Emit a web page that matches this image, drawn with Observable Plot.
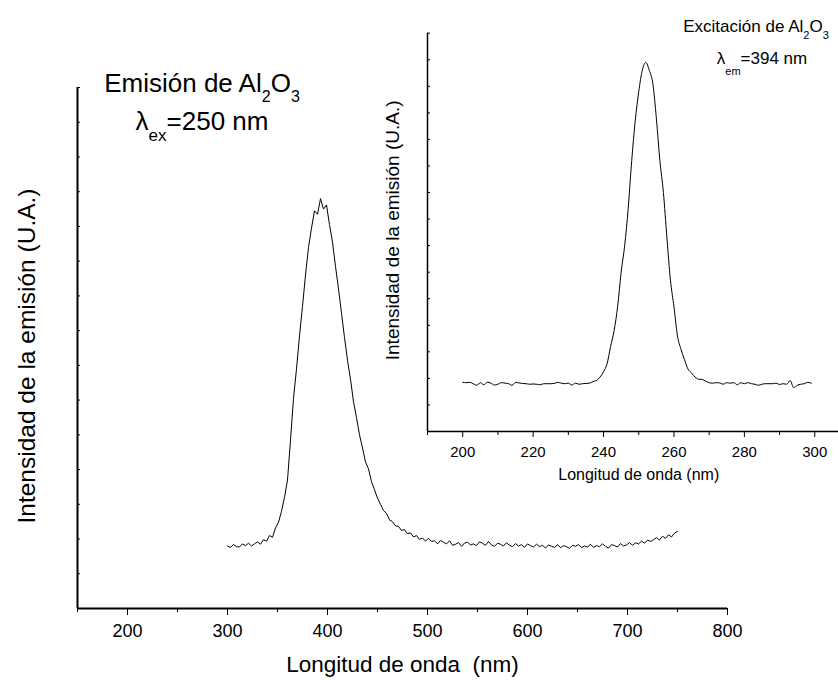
<!DOCTYPE html>
<html><head><meta charset="utf-8">
<script src="https://cdn.jsdelivr.net/npm/d3@7"></script>
<script src="https://cdn.jsdelivr.net/npm/@observablehq/plot@0.6"></script>
<style>
body{margin:0;background:#fff}
#c{position:relative;width:838px;height:686px;overflow:hidden;font-family:"Liberation Sans",Arial,sans-serif}
#c svg{position:absolute;left:0;top:0;max-width:none}
</style>
</head><body><div id="c"></div>
<script>
// ---------- Main chart: emission spectrum (λex = 250 nm) ----------
const emWavelength = [
300,303,306,309,312,315,318,321,324,327,330,333,336,339,342,345,348,351,354,357,
360,363,366,369,372,375,378,381,384,387,390,393,396,399,402,405,408,411,414,417,
420,423,426,429,432,435,438,441,444,447,450,453,456,459,462,465,468,471,474,477,
480,483,486,489,492,495,498,501,504,507,510,513,516,519,522,525,528,531,534,537,
540,543,546,549,552,555,558,561,564,567,570,573,576,579,582,585,588,591,594,597,
600,603,606,609,612,615,618,621,624,627,630,633,636,639,642,645,648,651,654,657,
660,663,666,669,672,675,678,681,684,687,690,693,696,699,702,705,708,711,714,717,
720,723,726,729,732,735,738,741,744,747,750];
const emIntensity = [
1.80,1.76,1.84,1.78,1.77,1.86,1.81,1.88,1.80,1.86,1.92,1.85,1.98,1.94,2.10,2.05,2.32,2.48,2.80,3.20,
3.70,4.85,6.05,6.90,7.85,8.70,9.60,10.40,10.95,11.45,11.35,11.80,11.50,11.62,11.05,10.55,9.85,9.20,8.50,7.80,
7.15,6.60,5.95,5.50,5.00,4.62,4.22,4.02,3.65,3.42,3.18,3.00,2.82,2.74,2.55,2.50,2.38,2.36,2.25,2.27,
2.15,2.18,2.06,2.10,1.99,2.03,1.94,2.02,1.93,1.95,1.86,1.96,1.91,1.86,1.95,1.82,1.85,1.90,1.79,1.88,
1.91,1.83,1.86,1.81,1.92,1.88,1.82,1.93,1.83,1.79,1.88,1.85,1.80,1.89,1.82,1.78,1.87,1.80,1.84,1.76,
1.86,1.81,1.77,1.85,1.78,1.82,1.74,1.83,1.79,1.76,1.84,1.75,1.81,1.78,1.73,1.82,1.79,1.84,1.75,1.80,
1.77,1.85,1.76,1.81,1.78,1.86,1.79,1.74,1.84,1.81,1.77,1.87,1.80,1.83,1.90,1.82,1.89,1.86,1.94,1.88,
1.97,1.93,1.98,2.04,1.97,2.08,2.02,2.12,2.06,2.17,2.22];
const mainXMajor = [200, 300, 400, 500, 600, 700, 800];
const mainXMinor = [150, 250, 350, 450, 550, 650, 750];
const yTicks = [0,1,2,3,4,5,6,7,8,9,10,11,12,13,14,15];
const mainXLabel = "Longitud de onda\u00a0 (nm)";
const mainYLabel = "Intensidad de la emisión (U.A.)";

// ---------- Inset chart: excitation spectrum (λem = 394 nm) ----------
const exWavelength = [
200,201,202,203,204,205,206,207,208,209,210,211,212,213,214,215,216,217,218,219,
220,221,222,223,224,225,226,227,228,229,230,231,232,233,234,235,236,237,238,239,
240,241,242,243,244,245,246,247,248,249,250,251,252,253,254,255,256,257,258,259,
260,261,262,263,264,265,266,267,268,269,270,271,272,273,274,275,276,277,278,279,
280,281,282,283,284,285,286,287,288,289,290,291,292,293,294,295,296,297,298,299];
const exIntensity = [
1.85,1.84,1.85,1.80,1.74,1.84,1.76,1.86,1.82,1.75,1.78,1.84,1.82,1.80,1.74,1.85,1.83,1.81,1.80,1.78,
1.79,1.78,1.76,1.80,1.80,1.80,1.81,1.85,1.82,1.80,1.82,1.75,1.82,1.78,1.80,1.81,1.82,1.88,1.92,2.05,
2.25,2.55,3.20,3.80,4.70,6.00,7.00,8.40,10.20,11.70,12.80,13.60,13.90,13.60,13.10,11.80,10.20,9.00,7.30,5.70,
4.70,3.60,3.10,2.70,2.35,2.20,2.05,1.97,1.96,1.90,1.84,1.82,1.84,1.83,1.78,1.84,1.82,1.84,1.76,1.84,
1.80,1.84,1.80,1.78,1.74,1.78,1.80,1.80,1.80,1.82,1.77,1.80,1.78,1.92,1.65,1.74,1.78,1.80,1.85,1.82];
const insetXMajor = [200, 220, 240, 260, 280, 300];
const insetXMinor = [190, 210, 230, 250, 270, 290, 310];
const insetXLabel = "Longitud de onda (nm)";
const insetYLabel = "Intensidad de la emisión (U.A.)";

const emission = emWavelength.map((wl, i) => ({wl, v: emIntensity[i]}));
const excitation = exWavelength.map((wl, i) => ({wl, v: exIntensity[i]}));

const font = '"Liberation Sans", Arial, sans-serif';

const main = Plot.plot({
  width: 838, height: 686,
  marginLeft: 77, marginRight: 111, marginTop: 87, marginBottom: 78,
  style: {fontFamily: font, background: "transparent", color: "black", overflow: "visible"},
  x: {domain: [150, 800]},
  y: {domain: [0, 15]},
  marks: [
    Plot.axisY({ticks: yTicks, tickSize: 3, dx: 3, fill: "none", label: null}),
    Plot.axisX({ticks: mainXMinor, tickSize: 4, fill: "none", label: null}),
    Plot.axisX({ticks: mainXMajor, tickSize: 7, tickPadding: 9, fontSize: 18, label: null}),
    Plot.ruleX([150], {strokeWidth: 2}),
    Plot.ruleY([0], {strokeWidth: 2}),
    Plot.line(emission, {x: "wl", y: "v", stroke: "black", strokeWidth: 1}),
    Plot.text([mainXLabel], {text: d => d, frameAnchor: "bottom", textAnchor: "middle", dy: 63, fontSize: 22.5}),
    Plot.text([mainYLabel], {text: d => d, frameAnchor: "left", textAnchor: "middle", rotate: -90, dx: -50, dy: 8, fontSize: 24.5})
  ]
});

const inset = Plot.plot({
  width: 860, height: 686,
  marginLeft: 427, marginRight: 10.5, marginTop: 32.7, marginBottom: 255,
  style: {fontFamily: font, background: "transparent", color: "black", overflow: "visible"},
  x: {domain: [190, 310]},
  y: {domain: [0, 15]},
  marks: [
    Plot.axisY({ticks: yTicks, tickSize: 3, dx: 3, fill: "none", label: null}),
    Plot.axisX({ticks: insetXMinor, tickSize: 4, fill: "none", label: null}),
    Plot.axisX({ticks: insetXMajor, tickSize: 6, tickPadding: 9, fontSize: 15, label: null}),
    Plot.ruleX([190], {strokeWidth: 1.5}),
    Plot.ruleY([0], {strokeWidth: 1.5}),
    Plot.line(excitation, {x: "wl", y: "v", stroke: "black", strokeWidth: 1, curve: "monotone-x"}),
    Plot.text([insetXLabel], {text: d => d, frameAnchor: "bottom", textAnchor: "middle", dy: 48, fontSize: 16}),
    Plot.text([insetYLabel], {text: d => d, frameAnchor: "left", textAnchor: "middle", rotate: -90, dx: -35, dy: -2, fontSize: 19})
  ]
});

const c = document.getElementById("c");
c.appendChild(main);
c.appendChild(inset);

function rich(svgEl, x, y, size, parts) {
  const t = d3.select(svgEl).append("text")
    .attr("x", x).attr("y", y)
    .attr("text-anchor", "middle")
    .attr("font-family", font)
    .attr("font-size", size)
    .attr("fill", "black");
  let shift = 0;
  for (const p of parts) {
    const s = t.append("tspan").text(p.t);
    if (p.sub) { s.attr("font-size", p.sub).attr("dy", p.dy - shift); shift = p.dy; }
    else { s.attr("dy", -shift); shift = 0; }
  }
}

rich(main, 202, 92, 26, [{t: "Emisión de Al"}, {t: "2", sub: 16, dy: 10}, {t: "O"}, {t: "3", sub: 16, dy: 10}]);
rich(main, 202, 130, 26, [{t: "λ"}, {t: "ex", sub: 17, dy: 11}, {t: "=250 nm"}]);
rich(inset, 756, 32, 17, [{t: "Excitación de Al"}, {t: "2", sub: 11, dy: 7}, {t: "O"}, {t: "3", sub: 11, dy: 7}]);
rich(inset, 762, 64, 17, [{t: "λ"}, {t: "em", sub: 11, dy: 11}, {t: "=394 nm"}]);
</script>
</body></html>
